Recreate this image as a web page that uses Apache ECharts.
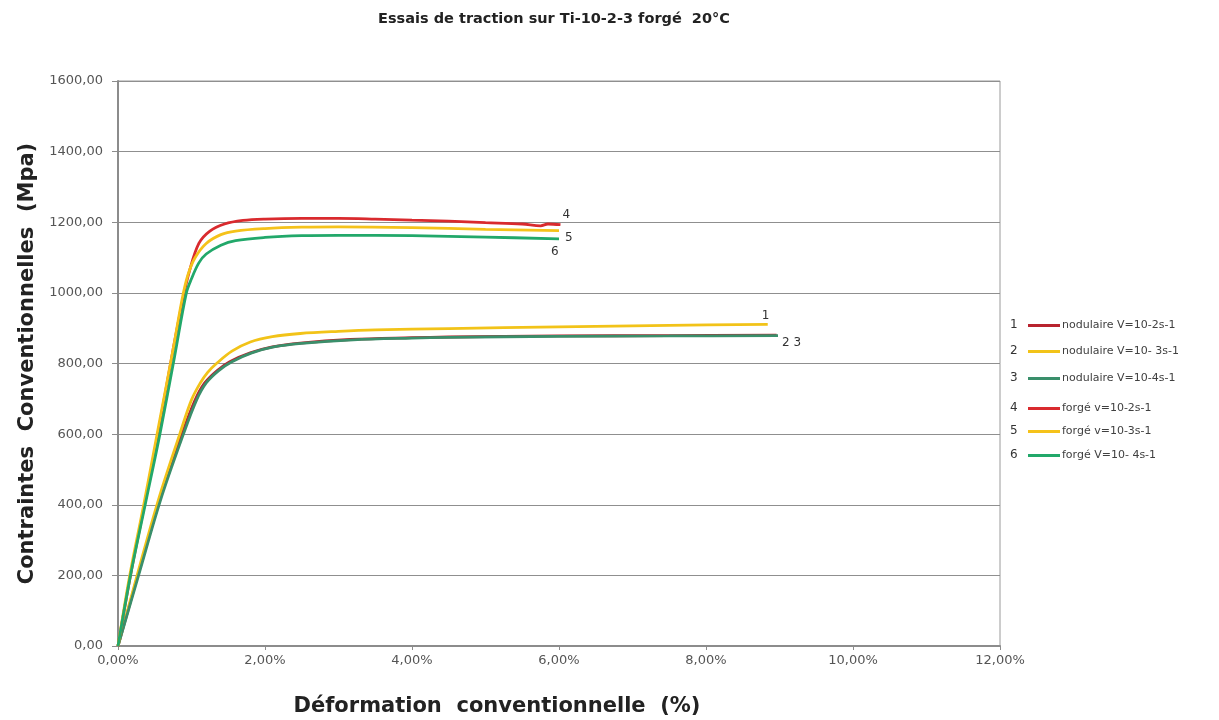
<!DOCTYPE html>
<html><head><meta charset="utf-8">
<script src="https://cdn.jsdelivr.net/npm/echarts@6/dist/echarts.min.js"></script>
<style>html,body{margin:0;padding:0;background:#fff}#c{width:1219px;height:720px}</style>
</head><body><div id="c"></div>
<script>
// strain (%) / stress (MPa) pairs
const nodRed = [[0,0],[0.27,200],[0.57,414],[0.87,600],[1.05,697],[1.18,745],[1.35,780],[1.52,805],[1.8,830],[2.1,847],[2.48,858],[3.16,868],[4.0,873],[4.5,875],[6.0,878],[7.5,879],[8.96,880]];
const nodYellow = [[0,0],[0.26,200],[0.55,414],[0.84,600],[1.0,697],[1.12,745],[1.22,775],[1.34,800],[1.55,835],[1.8,861],[2.1,876],[2.48,885],[3.0,891],[3.5,895],[4.5,899],[6.0,904],[7.5,908],[8.84,911]];
const nodGreen = [[0,0],[0.28,200],[0.58,414],[0.89,600],[1.07,697],[1.2,745],[1.37,780],[1.55,805],[1.82,830],[2.12,847],[2.5,857],[3.2,867],[4.0,872],[4.5,874],[6.0,877],[7.5,878],[8.98,879]];
const forRed = [[0,0],[0.17,200],[0.36,400],[0.56,620],[0.75,840],[0.88,980],[0.97,1060],[1.1,1140],[1.25,1175],[1.45,1195],[1.7,1205],[2.0,1209],[2.5,1211],[3.0,1211],[3.5,1209],[4.0,1206],[4.5,1203],[5.0,1199],[5.5,1195],[5.75,1190],[5.85,1195],[6.02,1193]];
const forYellow = [[0,0],[0.16,200],[0.35,400],[0.55,620],[0.75,840],[0.87,980],[0.95,1050],[1.05,1100],[1.2,1140],[1.4,1165],[1.6,1175],[2.0,1182],[2.5,1186],[3.0,1187],[4.0,1185],[5.0,1180],[6.0,1176]];
const forGreen = [[0,0],[0.17,200],[0.37,400],[0.57,600],[0.77,820],[0.93,1000],[1.0,1040],[1.1,1085],[1.2,1110],[1.4,1135],[1.6,1148],[2.0,1157],[2.5,1162],[3.0,1163],[4.0,1162],[5.0,1158],[6.0,1153]];

const seriesNames = ['nodulaire V=10-2s-1','nodulaire V=10- 3s-1','nodulaire V=10-4s-1','forgé v=10-2s-1','forgé v=10-3s-1','forgé V=10- 4s-1'];
const seriesData = [nodRed, nodYellow, nodGreen, forRed, forYellow, forGreen];
const seriesColors = ['#b8232f','#f2c318','#3a8f6b','#d92a2e','#f5c21a','#22a86a'];
const endLabels = ['', '1', '2 3', '4', '5', '6'];
const endOffsets = [[0,0],[-6,-8],[4,7],[2,-10],[6,7],[-8,13]];
const legendNums = ['1','2','3','4','5','6'];
const legendTops = [320, 346, 373, 403, 426, 450];
const yTicks = {min:0, max:1600, interval:200};
const xTicks = {min:0, max:12, interval:2};

const FONT = 'DejaVu Sans, Verdana, sans-serif';
const fmt = v => v.toFixed(2).replace('.', ',');

const series = seriesData.map((d, i) => ({
  name: seriesNames[i], type: 'line', data: d, smooth: 0.35, symbol: 'none',
  lineStyle: {width: 2.8, color: seriesColors[i]}, itemStyle: {color: seriesColors[i]},
  endLabel: endLabels[i] ? {show: true, formatter: endLabels[i], distance: 0, offset: endOffsets[i],
    fontSize: 12, color: '#333', fontFamily: FONT} : {show: false},
  labelLayout: {hideOverlap: false}, z: 2 + i
}));

const legends = seriesNames.map((n, i) => ({
  data: [n], left: 1028, top: legendTops[i], icon: 'rect', itemWidth: 32, itemHeight: 3,
  selectedMode: false, padding: 0, itemGap: 0,
  textStyle: {fontSize: 11, color: '#404040', fontFamily: FONT, padding: [0, 0, 0, -3]}
}));

const graphics = legendNums.map((t, i) => ({
  type: 'text', left: 1010, top: legendTops[i] - 1,
  style: {text: t, fontSize: 12, fill: '#333', fontFamily: FONT}
}));

const chart = echarts.init(document.getElementById('c'), null, {renderer: 'canvas'});
chart.setOption({
  animation: false,
  backgroundColor: '#fff',
  textStyle: {fontFamily: FONT},
  title: {text: 'Essais de traction sur Ti-10-2-3 forgé  20°C', left: 549, top: 7, textAlign: 'center',
    textStyle: {fontSize: 14.5, fontWeight: 'bold', color: '#222', fontFamily: FONT}},
  grid: {left: 118, right: 219, top: 81, bottom: 74, show: true, borderColor: '#9a9a9a', borderWidth: 1,
    outerBoundsMode: 'none', containLabel: false},
  legend: legends,
  graphic: graphics,
  xAxis: {type: 'value', min: xTicks.min, max: xTicks.max, interval: xTicks.interval,
    name: 'Déformation  conventionnelle  (%)', nameLocation: 'middle', nameGap: 50,
    nameTextStyle: {fontSize: 21, fontWeight: 'bold', color: '#222', fontFamily: FONT, padding: [0, 124, 0, 0]},
    axisLine: {lineStyle: {color: '#8c8c8c', width: 2}},
    axisTick: {show: true, length: 4, lineStyle: {color: '#8c8c8c'}},
    axisLabel: {formatter: v => fmt(v) + '%', fontSize: 13, color: '#555', margin: 8, fontFamily: FONT},
    splitLine: {show: false}},
  yAxis: {type: 'value', min: yTicks.min, max: yTicks.max, interval: yTicks.interval,
    name: 'Contraintes  Conventionnelles  (Mpa)', nameLocation: 'middle', nameGap: 80,
    nameTextStyle: {fontSize: 21, fontWeight: 'bold', color: '#222', fontFamily: FONT},
    axisLine: {show: true, lineStyle: {color: '#8c8c8c', width: 2}},
    axisTick: {show: true, length: 6, lineStyle: {color: '#8c8c8c'}},
    axisLabel: {formatter: v => fmt(v), fontSize: 13, color: '#555', margin: 15, fontFamily: FONT},
    splitLine: {show: true, lineStyle: {color: '#8f8f8f', width: 1}}},
  series: series
});
</script></body></html>
